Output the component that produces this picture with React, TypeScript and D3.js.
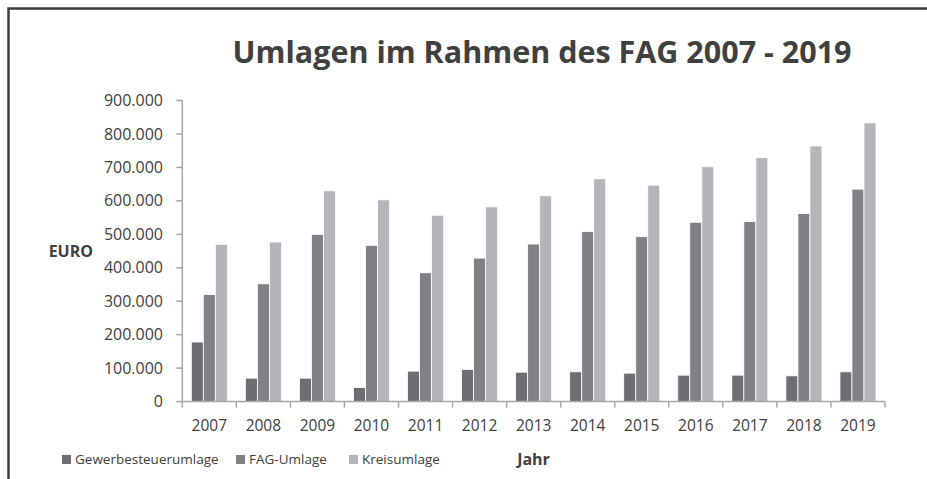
import React from 'react';
import * as d3 from 'd3';

const years = ['2007', '2008', '2009', '2010', '2011', '2012', '2013', '2014', '2015', '2016', '2017', '2018', '2019'];
const seriesNames = ['Gewerbesteuerumlage', 'FAG-Umlage', 'Kreisumlage'];
const gewerbesteuerumlage = [178000, 70000, 70000, 42000, 91000, 96000, 88000, 89000, 85000, 79000, 79000, 77000, 89000];
const fagUmlage = [320000, 352000, 500000, 467000, 385000, 429000, 471000, 508000, 493000, 536000, 538000, 562000, 635000];
const kreisumlage = [470000, 477000, 630000, 603000, 557000, 582000, 615000, 666000, 647000, 702000, 729000, 764000, 833000];
const yTicks = [0, 100000, 200000, 300000, 400000, 500000, 600000, 700000, 800000, 900000];

const colors = ['#6d6e72', '#808185', '#b4b5b9'];
const W = 927;
const H = 479;
const FONT = "'Open Sans', 'Noto Sans', sans-serif";

// German number format: 100.000
const de = d3.formatLocale({ decimal: ',', thousands: '.', grouping: [3], currency: ['', ' €'] });
const fmt = de.format(',');

export default function App() {
  const plot = { left: 182.3, right: 885, top: 100.5, bottom: 401.6 };
  const seriesValues = [gewerbesteuerumlage, fagUmlage, kreisumlage];

  const x = d3.scaleBand<string>()
    .domain(years)
    .range([plot.left, plot.right])
    .paddingInner(1 / 3)
    .paddingOuter(1 / 6);
  const xInner = d3.scaleBand<string>()
    .domain(seriesNames)
    .range([0, x.bandwidth()]);
  const y = d3.scaleLinear().domain([0, 900000]).range([plot.bottom, plot.top]);

  const step = x.step();
  const boundaries = d3.range(years.length + 1).map(i => plot.left + i * step);

  // legend item positions (px)
  const legendX = [62, 236, 349];

  return (
    <svg width={W} height={H} style={{ position: 'absolute', left: 0, top: 0, background: '#fff' }}
      fontFamily={FONT}>
      <rect x={0} y={0} width={W} height={H} fill="#fff" />
      {/* chart frame */}
      <rect x={8.5} y={8.5} width={W + 20} height={H + 20} fill="none" stroke="#3c3c3c" strokeWidth={2.5} />

      <text x={542} y={63} textAnchor="middle" fontSize={30.5} fontWeight="bold" fill="#404040">
        Umlagen im Rahmen des FAG 2007 - 2019
      </text>

      {/* bars */}
      {years.map((yr, i) => (
        <g key={yr} transform={`translate(${x(yr)},0)`}>
          {seriesNames.map((s, j) => {
            const v = seriesValues[j][i];
            return (
              <rect key={s} x={xInner(s)} y={y(v)} width={xInner.bandwidth()} height={y(0) - y(v)}
                fill={colors[j]} stroke="#fff" strokeWidth={0.8} />
            );
          })}
        </g>
      ))}

      {/* y axis */}
      <line x1={plot.left} x2={plot.left} y1={plot.top} y2={plot.bottom} stroke="#a6a6a6" strokeWidth={1.5} />
      {yTicks.map(t => (
        <g key={t}>
          <line x1={plot.left - 6} x2={plot.left} y1={y(t)} y2={y(t)} stroke="#a6a6a6" strokeWidth={1.5} />
          <text x={163} y={y(t)} dy="0.35em" textAnchor="end" fontSize={16} fill="#404040">{fmt(t)}</text>
        </g>
      ))}

      {/* x axis */}
      <line x1={plot.left} x2={plot.right} y1={plot.bottom} y2={plot.bottom} stroke="#a6a6a6" strokeWidth={1.5} />
      {boundaries.map((b, i) => (
        <line key={i} x1={b} x2={b} y1={plot.bottom} y2={plot.bottom + 6} stroke="#a6a6a6" strokeWidth={1.5} />
      ))}
      {years.map(yr => (
        <text key={yr} x={(x(yr) as number) + x.bandwidth() / 2} y={426} dy="0.35em" textAnchor="middle"
          fontSize={15.5} fill="#404040">{yr}</text>
      ))}

      {/* axis titles */}
      <text x={533.5} y={465} textAnchor="middle" fontSize={16} fontWeight="bold" fill="#404040">Jahr</text>
      <text x={93} y={251} dy="0.35em" textAnchor="end" fontSize={16} fontWeight="bold" fill="#404040">EURO</text>

      {/* legend */}
      {seriesNames.map((s, j) => (
        <g key={s} transform={`translate(${legendX[j]},455)`}>
          <rect x={0} y={0} width={9} height={9} fill={colors[j]} />
          <text x={13} y={4.5} dy="0.35em" fontSize={13.5} fill="#404040">{s}</text>
        </g>
      ))}
    </svg>
  );
}
